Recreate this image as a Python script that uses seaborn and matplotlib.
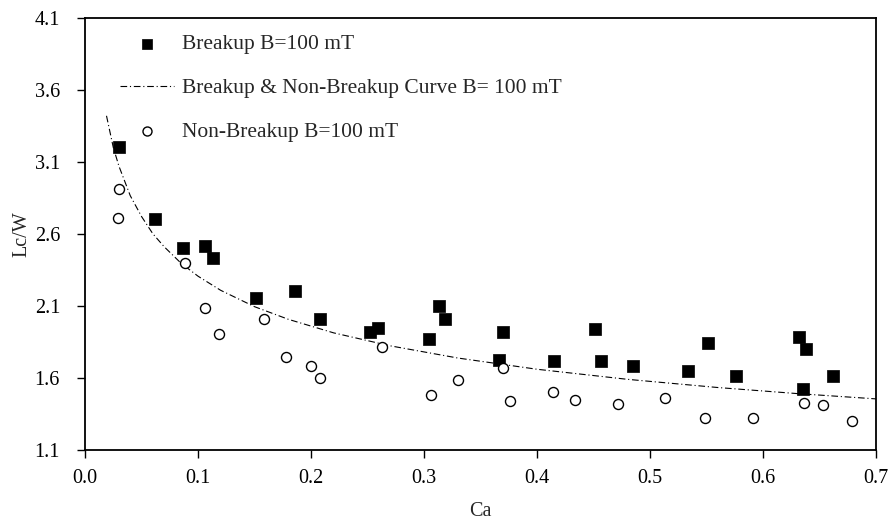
import numpy as np
import pandas as pd
import matplotlib
matplotlib.use("Agg")
import matplotlib.pyplot as plt
import seaborn as sns

# Breakup observations (Ca, Lc/W)
breakup_ca = [0.030, 0.062, 0.087, 0.106, 0.113, 0.151, 0.186, 0.208, 0.252, 0.259,
              0.304, 0.313, 0.319, 0.366, 0.370, 0.415, 0.451, 0.457, 0.485, 0.534,
              0.551, 0.576, 0.632, 0.635, 0.638, 0.662]
breakup_lw = [3.20, 2.70, 2.50, 2.515, 2.43, 2.15, 2.205, 2.005, 1.92, 1.945,
              1.87, 2.10, 2.005, 1.72, 1.92, 1.715, 1.935, 1.715, 1.68, 1.645,
              1.84, 1.61, 1.88, 1.52, 1.80, 1.61]

# Non-breakup observations (Ca, Lc/W)
nonbreak_ca = [0.030, 0.029, 0.0885, 0.106, 0.119, 0.158, 0.1775, 0.200, 0.208, 0.263,
               0.306, 0.330, 0.370, 0.376, 0.414, 0.434, 0.472, 0.513, 0.549, 0.591,
               0.636, 0.653, 0.6785]
nonbreak_lw = [2.91, 2.71, 2.40, 2.085, 1.90, 2.01, 1.745, 1.68, 1.60, 1.81,
               1.48, 1.58, 1.665, 1.435, 1.50, 1.445, 1.415, 1.455, 1.32, 1.32,
               1.425, 1.41, 1.30]

# Boundary curve between breakup and non-breakup regimes
curve_ca = [0.019, 0.025, 0.03, 0.04, 0.05, 0.06, 0.07, 0.085, 0.10, 0.12, 0.15,
            0.18, 0.22, 0.27, 0.33, 0.40, 0.48, 0.56, 0.63, 0.70]
curve_lw = [3.42, 3.20, 3.07, 2.865, 2.72, 2.60, 2.51, 2.395, 2.305, 2.207, 2.093,
            2.005, 1.911, 1.821, 1.736, 1.658, 1.588, 1.531, 1.489, 1.452]

x_ticks = [0.0, 0.1, 0.2, 0.3, 0.4, 0.5, 0.6, 0.7]
y_ticks = [1.1, 1.6, 2.1, 2.6, 3.1, 3.6, 4.1]

label_break = "Breakup B=100 mT"
label_curve = "Breakup & Non-Breakup Curve B= 100 mT"
label_nonbreak = "Non-Breakup B=100 mT"

sns.set_style("ticks")
plt.rcParams["font.family"] = ["Liberation Serif", "DejaVu Serif"]

fig = plt.figure(figsize=(8.96, 5.23), dpi=100)
ax = fig.add_axes([0.0949, 0.1405, 0.8828, 0.8251])

df_b = pd.DataFrame({"Ca": breakup_ca, "LcW": breakup_lw})
df_n = pd.DataFrame({"Ca": nonbreak_ca, "LcW": nonbreak_lw})
df_c = pd.DataFrame({"Ca": curve_ca, "LcW": curve_lw})

sns.scatterplot(data=df_b, x="Ca", y="LcW", ax=ax, marker="s", s=68,
                color="black", edgecolor="black", linewidth=0.5,
                label=label_break, zorder=3)
sns.lineplot(data=df_c, x="Ca", y="LcW", ax=ax, color="black",
             linewidth=0.8, linestyle=(0, (6, 2.5, 1, 2.5)),
             label=label_curve, zorder=2, sort=False)
sns.scatterplot(data=df_n, x="Ca", y="LcW", ax=ax, marker="o", s=52,
                facecolor="white", edgecolor="black", linewidth=1.0,
                label=label_nonbreak, zorder=3)

ax.set_xlim(0.0, 0.7)
ax.set_ylim(1.1, 4.1)
ax.set_xticks(x_ticks)
ax.set_yticks(y_ticks)
ax.set_xticklabels([f"{v:.1f}" for v in x_ticks])
ax.set_yticklabels([f"{v:.1f}" for v in y_ticks])
ax.tick_params(direction="out", length=6, width=1.0, labelsize=14.5, colors="black")
ax.tick_params(axis="y", pad=12)
ax.tick_params(axis="x", pad=8)
ax.set_xlabel("Ca", fontsize=14.5, labelpad=10)
ax.set_ylabel("Lc/W", fontsize=14.5, labelpad=2)

for side in ["top", "right", "left", "bottom"]:
    ax.spines[side].set_visible(True)
    ax.spines[side].set_linewidth(1.3)
    ax.spines[side].set_color("black")

leg = ax.legend(loc="upper left", bbox_to_anchor=(0.044, 0.962), frameon=False,
                fontsize=15.5, handlelength=2.5, handletextpad=0.4,
                labelspacing=1.1, borderaxespad=0.0, borderpad=0.0,
                markerscale=0.9)

fig.savefig("out.png", dpi=100)
